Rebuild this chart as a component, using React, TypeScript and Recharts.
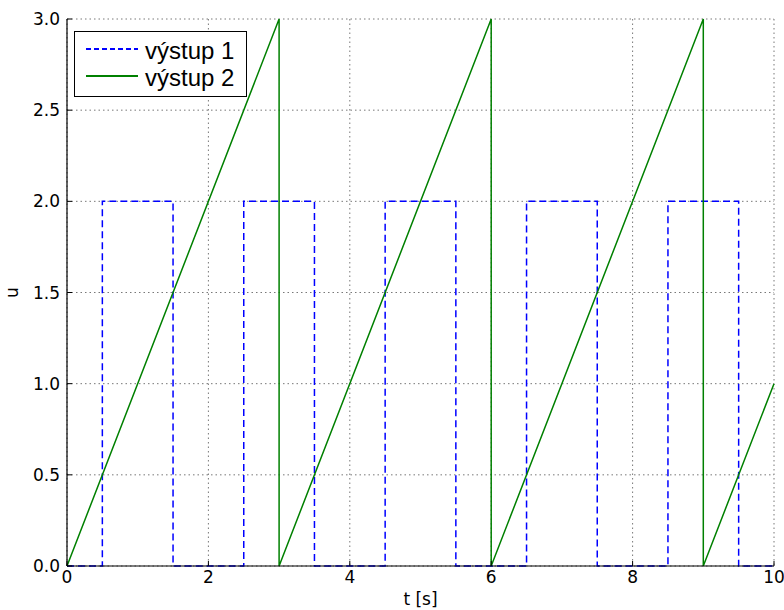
import React from 'react';
import { LineChart, Line, XAxis, YAxis, CartesianGrid, Legend } from 'recharts';

// výstup 1: square wave, period 2 s, high between x.5 and x+1.5
const t1 = [0, 0.5, 0.5, 1.5, 1.5, 2.5, 2.5, 3.5, 3.5, 4.5, 4.5, 5.5, 5.5, 6.5, 6.5, 7.5, 7.5, 8.5, 8.5, 9.5, 9.5, 10];
const u1 = [0, 0, 2, 2, 0, 0, 2, 2, 0, 0, 2, 2, 0, 0, 2, 2, 0, 0, 2, 2, 0, 0];

// výstup 2: sawtooth 0 -> 3 every 3 s
const t2 = [0, 3, 3, 6, 6, 9, 9, 10];
const u2 = [0, 3, 0, 3, 0, 3, 0, 1];

const xTicks = [0, 2, 4, 6, 8, 10];
const yTicks = [0, 0.5, 1, 1.5, 2, 2.5, 3];

const series = [
  { name: 'výstup 1', color: '#0000ff', dash: '7 4', legendDash: '5 3' },
  { name: 'výstup 2', color: '#008000', dash: undefined as string | undefined, legendDash: undefined as string | undefined },
];

const data1 = t1.map((t, i) => ({ t, u: u1[i] }));
const data2 = t2.map((t, i) => ({ t, u: u2[i] }));

const FONT = '"DejaVu Sans", sans-serif';
const LEGEND_FONT = '"Liberation Sans", Arial, sans-serif';
const TICK_LEN = 5;

// tick label plus a short tick drawn into the plot area
const LeftTick = (props: any) => {
  const { x, y, payload } = props;
  return (
    <g>
      <text x={x} y={y} textAnchor="end" dy="0.36em" fontSize={17} fontFamily={FONT} fill="#000">
        {Number(payload.value).toFixed(1)}
      </text>
      <line x1={x + 7} x2={x + 7 + TICK_LEN} y1={y} y2={y} stroke="#000" strokeWidth={1} />
    </g>
  );
};

const BottomTick = (props: any) => {
  const { x, y, payload } = props;
  return (
    <g>
      <text x={x} y={y} textAnchor="middle" dy="0.75em" fontSize={17} fontFamily={FONT} fill="#000">
        {payload.value}
      </text>
      <line x1={x} x2={x} y1={y - 4} y2={y - 4 - TICK_LEN} stroke="#000" strokeWidth={1} />
    </g>
  );
};

const RightTick = (props: any) => {
  const { x, y } = props;
  return <line x1={x} x2={x - TICK_LEN} y1={y} y2={y} stroke="#000" strokeWidth={1} />;
};

const TopTick = (props: any) => {
  const { x, y } = props;
  return <line x1={x} x2={x} y1={y} y2={y + TICK_LEN} stroke="#000" strokeWidth={1} />;
};

const LegendBox = () => (
  <div
    style={{
      width: 173,
      height: 66,
      boxSizing: 'border-box',
      border: '1px solid #000',
      background: '#fff',
      padding: '5px 0 0 11px',
      fontFamily: LEGEND_FONT,
      fontSize: 24,
      color: '#000',
    }}
  >
    {series.map((s) => (
      <div key={s.name} style={{ display: 'flex', alignItems: 'center', height: 27, lineHeight: '27px' }}>
        <svg width={52} height={10} style={{ marginRight: 7, marginTop: -4 }}>
          <line x1={0} x2={52} y1={5} y2={5} stroke={s.color} strokeWidth={2} strokeDasharray={s.legendDash} />
        </svg>
        <span>{s.name}</span>
      </div>
    ))}
  </div>
);

export default function App() {
  return (
    <div style={{ position: 'absolute', left: 0, top: 0, background: '#fff' }}>
      <LineChart width={784} height={610} margin={{ top: 19, right: 10, bottom: 0, left: 0 }}>
        <CartesianGrid stroke="#555" strokeDasharray="1.5 3" strokeWidth={0.8} />
        <XAxis
          dataKey="t"
          type="number"
          domain={[0, 10]}
          ticks={xTicks}
          height={44}
          tickSize={0}
          tickMargin={4}
          tickLine={false}
          axisLine={{ stroke: '#000', strokeWidth: 1.2 }}
          tick={<BottomTick />}
          label={{
            content: ({ viewBox }: any) => (
              <text
                x={viewBox.x + viewBox.width / 2}
                y={viewBox.y + 39}
                textAnchor="middle"
                fontSize={17}
                fontFamily={FONT}
                fill="#000"
              >
                t [s]
              </text>
            ),
          }}
        />
        <XAxis
          xAxisId="top"
          orientation="top"
          type="number"
          domain={[0, 10]}
          ticks={xTicks}
          height={0}
          tickSize={0}
          tickMargin={0}
          tickLine={false}
          axisLine={{ stroke: '#000', strokeWidth: 1.2 }}
          tick={<TopTick />}
        />
        <YAxis
          type="number"
          domain={[0, 3]}
          ticks={yTicks}
          width={67}
          tickSize={0}
          tickMargin={7}
          tickLine={false}
          axisLine={{ stroke: '#000', strokeWidth: 1.2 }}
          tick={<LeftTick />}
          label={{
            content: ({ viewBox }: any) => {
              const cx = 12;
              const cy = viewBox.y + viewBox.height / 2;
              return (
                <text
                  x={cx}
                  y={cy}
                  transform={`rotate(-90 ${cx} ${cy})`}
                  textAnchor="middle"
                  dy="0.36em"
                  fontSize={17}
                  fontFamily={FONT}
                  fill="#000"
                >
                  u
                </text>
              );
            },
          }}
        />
        <YAxis
          yAxisId="right"
          orientation="right"
          type="number"
          domain={[0, 3]}
          ticks={yTicks}
          width={0}
          tickSize={0}
          tickMargin={0}
          tickLine={false}
          axisLine={{ stroke: '#000', strokeWidth: 1.2 }}
          tick={<RightTick />}
        />
        <Legend
          layout="vertical"
          align="center"
          verticalAlign="middle"
          wrapperStyle={{ left: 74, top: 31, width: 'auto', height: 'auto' }}
          content={<LegendBox />}
        />
        <Line
          data={data1}
          dataKey="u"
          name={series[0].name}
          type="linear"
          stroke={series[0].color}
          strokeWidth={1.5}
          strokeDasharray={series[0].dash}
          dot={false}
          activeDot={false}
          isAnimationActive={false}
        />
        <Line
          data={data2}
          dataKey="u"
          name={series[1].name}
          type="linear"
          stroke={series[1].color}
          strokeWidth={1.5}
          dot={false}
          activeDot={false}
          isAnimationActive={false}
        />
      </LineChart>
    </div>
  );
}
